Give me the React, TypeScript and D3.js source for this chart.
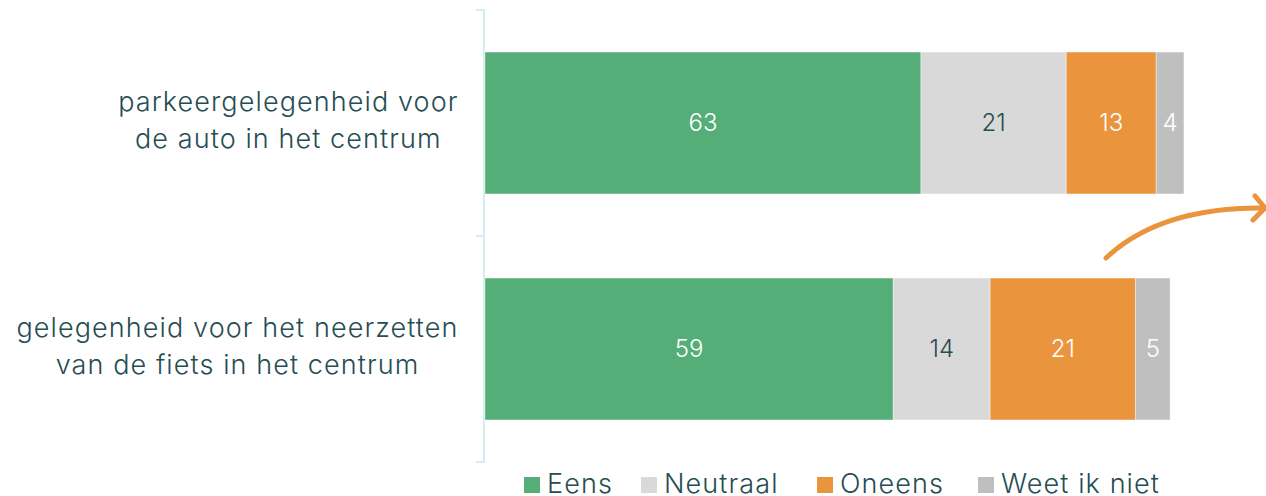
import React from "react";
import * as d3 from "d3";

const categories = [
  "parkeergelegenheid voor\nde auto in het centrum",
  "gelegenheid voor het neerzetten\nvan de fiets in het centrum",
];
const seriesNames = ["Eens", "Neutraal", "Oneens", "Weet ik niet"];
const eens = [63, 59];
const neutraal = [21, 14];
const oneens = [13, 21];
const weetIkNiet = [4, 5];

const colors = ["#55ad78", "#d9d9d9", "#ea953d", "#bfbfbf"];
const labelColors = ["#ffffff", "#264d53", "#ffffff", "#ffffff"];
const textColor = "#264d53";
const FONT = "Inter, 'Noto Sans', sans-serif";

const W = 1266;
const H = 496;

function measure(text: string, size: number, weight: number, ls: number) {
  const c = document.createElement("canvas").getContext("2d");
  if (!c) return text.length * size * 0.55;
  c.font = `${weight} ${size}px Inter`;
  return c.measureText(text).width + ls * (text.length - 1);
}

export default function App() {
  const series = [eens, neutraal, oneens, weetIkNiet];
  const x = d3.scaleLinear().domain([0, 100]).range([485, 1177]);
  const y = d3
    .scaleBand<string>()
    .domain(categories)
    .range([10, 462])
    .paddingInner(0.372)
    .paddingOuter(0.186);

  const rows = categories.map((cat, i) => {
    const vals = series.map((s) => s[i]);
    const stacked = d3.cumsum(vals);
    return { cat, segs: vals.map((v, k) => ({ v, k, x0: stacked[k] - v, x1: stacked[k] })) };
  });

  const labelRight = 458;
  const labelSize = 27;
  const labelWeight = 300;
  const ls = 1.1;

  const legendX = [524, 641, 817, 978];

  const step = y.step();
  const bracketYs = [10, 10 + step, 462];

  return (
    <svg
      width={W}
      height={H}
      style={{ position: "absolute", left: 0, top: 0, background: "#fff" }}
      fontFamily={FONT}
    >
      <line x1={484} x2={484} y1={10} y2={462} stroke="#d3eef1" strokeWidth={2} />
      {bracketYs.map((by, i) => (
        <line key={i} x1={476} x2={485} y1={by} y2={by} stroke="#d3eef1" strokeWidth={2} />
      ))}

      {rows.map((r) => {
        const y0 = y(r.cat)!;
        const bw = y.bandwidth();
        const lines = r.cat.split("\n");
        const blockW = Math.max(...lines.map((l) => measure(l, labelSize, labelWeight, ls)));
        const cx = labelRight - blockW / 2;
        const cy = y0 + bw / 2;
        const lh = 37;
        return (
          <g key={r.cat}>
            {r.segs.map((s) => (
              <g key={s.k}>
                <rect
                  x={x(s.x0)}
                  y={y0}
                  width={x(s.x1) - x(s.x0)}
                  height={bw}
                  fill={colors[s.k]}
                  stroke="#ffffff"
                  strokeOpacity={0.4}
                  strokeWidth={1}
                />
                <text
                  x={(x(s.x0) + x(s.x1)) / 2}
                  y={cy}
                  dy="0.35em"
                  textAnchor="middle"
                  fontSize={24}
                  fontWeight={300}
                  fill={labelColors[s.k]}
                >
                  {s.v}
                </text>
              </g>
            ))}
            {lines.map((l, j) => (
              <text
                key={j}
                x={cx}
                y={cy - 3 + (j - (lines.length - 1) / 2) * lh}
                dy="0.35em"
                textAnchor="middle"
                fontSize={labelSize}
                fontWeight={labelWeight}
                letterSpacing={ls}
                fill={textColor}
              >
                {l}
              </text>
            ))}
          </g>
        );
      })}

      <path
        d="M1106,258 Q1160,207 1264,208"
        fill="none"
        stroke="#ea953d"
        strokeWidth={5}
        strokeLinecap="round"
      />
      <path
        d="M1255,196 L1265,208 L1253,220"
        fill="none"
        stroke="#ea953d"
        strokeWidth={5}
        strokeLinecap="round"
        strokeLinejoin="round"
      />

      {seriesNames.map((n, i) => (
        <g key={n} transform={`translate(${legendX[i]},0)`}>
          <rect x={0} y={477} width={16} height={16} fill={colors[i]} />
          <text x={23} y={493} fontSize={27} fontWeight={300} letterSpacing={1.1} fill={textColor}>
            {n}
          </text>
        </g>
      ))}
    </svg>
  );
}
